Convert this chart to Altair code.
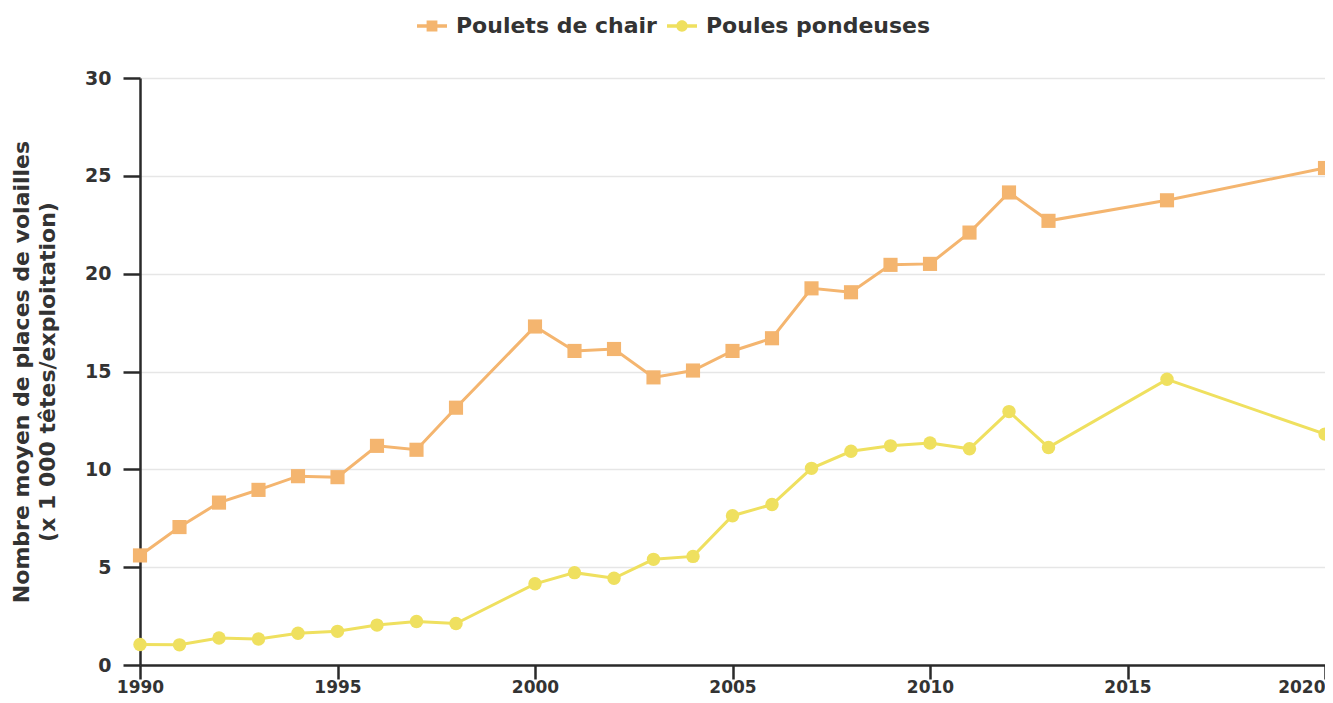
import altair as alt
import pandas as pd

years = [1990, 1991, 1992, 1993, 1994, 1995, 1996, 1997, 1998,
         2000, 2001, 2002, 2003, 2004, 2005, 2006, 2007, 2008, 2009,
         2010, 2011, 2012, 2013, 2016, 2020]
poulets_de_chair = [5.6, 7.05, 8.3, 8.95, 9.65, 9.6, 11.2, 11.0, 13.15,
                    17.3, 16.05, 16.15, 14.7, 15.05, 16.05, 16.7, 19.25, 19.05, 20.45,
                    20.5, 22.1, 24.15, 22.7, 23.75, 25.4]
poules_pondeuses = [1.05, 1.03, 1.38, 1.33, 1.62, 1.72, 2.04, 2.22, 2.12,
                    4.15, 4.72, 4.43, 5.4, 5.55, 7.63, 8.2, 10.05, 10.92, 11.2,
                    11.35, 11.05, 12.95, 11.12, 14.6, 11.8]
series = ["Poulets de chair", "Poules pondeuses"]
colors = ["#f4b56f", "#efe05f"]
x_ticks = [1990, 1995, 2000, 2005, 2010, 2015, 2020]
y_ticks = [0, 5, 10, 15, 20, 25, 30]

rows = []
for y, v in zip(years, poulets_de_chair):
    rows.append({"annee": y, "valeur": v, "type": series[0]})
for y, v in zip(years, poules_pondeuses):
    rows.append({"annee": y, "valeur": v, "type": series[1]})
df = pd.DataFrame(rows)

FONT = "DejaVu Sans"
TXT = "#333333"

x_enc = alt.X("annee:Q",
              scale=alt.Scale(domain=[1990, 2020], nice=False, zero=False),
              axis=alt.Axis(values=x_ticks, format="d", title=None, grid=False,
                            labelAlign={"condition": {"test": "datum.value == 2020", "value": "right"}, "value": "center"},
                            labelFlush=False, labelOverlap=False, tickSize=14,
                            labelPadding=0, labelFontSize=17))
y_enc = alt.Y("valeur:Q",
              scale=alt.Scale(domain=[0, 30], nice=False),
              axis=alt.Axis(values=y_ticks, grid=True, gridColor="#e6e6e6", gridWidth=1.5,
                            title=["Nombre moyen de places de volailles", "(x 1 000 têtes/exploitation)"],
                            titleFontSize=22, titleLineHeight=26,
                            titleX=-129, titleY=293.5, titleAngle=-90,
                            titleAlign="center", titleBaseline="top",
                            tickSize=17, labelPadding=12, labelFontSize=19))

color_nolegend = alt.Color("type:N", scale=alt.Scale(domain=series, range=colors), legend=None)

lines = alt.Chart(df).mark_line(strokeWidth=3).encode(
    x=x_enc, y=y_enc, color=color_nolegend, detail="type:N"
)

points = alt.Chart(df).mark_point(filled=True, opacity=1, strokeWidth=0).encode(
    x=x_enc, y=y_enc, color=color_nolegend,
    shape=alt.Shape("type:N", scale=alt.Scale(domain=series, range=["square", "circle"]), legend=None),
    size=alt.Size("type:N", scale=alt.Scale(domain=series, range=[200, 180]), legend=None),
)

sq_path = "M-1,-0.11H1V0.11H-1Z M-0.36,-0.36H0.36V0.36H-0.36Z"
ci_path = "M-1,-0.11H1V0.11H-1Z M0.38,0A0.38,0.38,0,1,1,-0.38,0A0.38,0.38,0,1,1,0.38,0Z"

legend_layer = alt.Chart(df).transform_filter("datum.valeur < -100").mark_point(
    filled=True, opacity=1, strokeWidth=0
).encode(
    x=x_enc, y=y_enc,
    color=alt.Color("type:N", scale=alt.Scale(domain=series, range=colors),
                    legend=alt.Legend(title=None, orient="none", direction="horizontal",
                                      legendX=277, legendY=-67,
                                      symbolSize=900, symbolStrokeWidth=0, symbolOpacity=1,
                                      labelFontSize=22, labelFont=FONT, labelFontWeight="bold",
                                      labelColor=TXT, labelOffset=9, columnPadding=10,
                                      labelLimit=0, padding=0)),
    shape=alt.Shape("type:N", scale=alt.Scale(domain=series, range=[sq_path, ci_path])),
)

chart = alt.layer(legend_layer, lines, points).resolve_scale(
    color="independent", shape="independent", size="independent"
).properties(
    width=1185, height=587,
    autosize=alt.AutoSizeParams(type="none"),
    padding={"left": 132, "top": 70, "right": 0, "bottom": 30},
).configure_view(stroke=None).configure_axis(
    labelFont=FONT, titleFont=FONT, labelFontWeight="bold", titleFontWeight="bold",
    labelColor=TXT, titleColor=TXT,
    domainColor="#2a2a2a", domainWidth=2.5, tickColor="#2a2a2a", tickWidth=2.5,
)

chart.save("out.html", embed_options={"renderer": "svg", "actions": False})
